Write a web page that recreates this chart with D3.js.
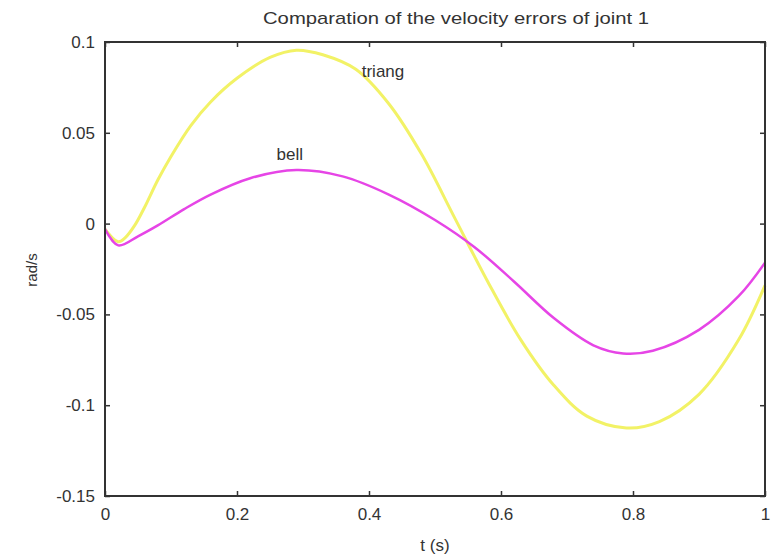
<!DOCTYPE html>
<html>
<head>
<meta charset="utf-8">
<script src="https://cdn.jsdelivr.net/npm/d3@7"></script>
<style>
  body { margin: 0; background: #fff; }
  text { font-family: "Liberation Sans", Arial, sans-serif; fill: #333; }
</style>
</head>
<body>
<div id="chart"></div>
<script>
// time samples (s) and velocity errors (rad/s)
var tTriang = [0, 0.02, 0.03, 0.045, 0.06, 0.08, 0.1, 0.13, 0.16, 0.2, 0.25, 0.29, 0.33, 0.38, 0.43, 0.48, 0.53, 0.58, 0.63, 0.68, 0.73, 0.79, 0.84, 0.9, 0.96, 1];
var triang  = [-0.003, -0.010, -0.008, -0.001, 0.009, 0.024, 0.037, 0.054, 0.067, 0.080, 0.0915, 0.0955, 0.093, 0.085, 0.066, 0.038, 0.003, -0.032, -0.064, -0.089, -0.106, -0.1125, -0.109, -0.094, -0.064, -0.034];

var tBell = [0, 0.02, 0.05, 0.08, 0.12, 0.16, 0.22, 0.29, 0.36, 0.43, 0.5, 0.56, 0.62, 0.68, 0.74, 0.785, 0.83, 0.9, 0.96, 1];
var bell  = [-0.003, -0.012, -0.007, -0.001, 0.008, 0.016, 0.025, 0.0295, 0.026, 0.016, 0.002, -0.013, -0.032, -0.052, -0.067, -0.0715, -0.070, -0.0585, -0.040, -0.0215];

var xTicks = [0, 0.2, 0.4, 0.6, 0.8, 1];
var yTicks = [0.1, 0.05, 0, -0.05, -0.1, -0.15];

const w = 774, h = 554;
const mLeft = 105, mRight = 765, mTop = 42, mBottom = 496;

const x = d3.scaleLinear().domain([0, 1]).range([mLeft, mRight]);
const y = d3.scaleLinear().domain([-0.15, 0.1]).range([mBottom, mTop]);

const svg = d3.select("#chart").append("svg")
  .attr("width", w).attr("height", h);

// curves
const line = d3.line()
  .x(d => x(d[0]))
  .y(d => y(d[1]))
  .curve(d3.curveCatmullRom.alpha(0.5));

svg.append("path")
  .datum(d3.zip(tTriang, triang))
  .attr("d", line)
  .attr("fill", "none")
  .attr("stroke", "#f2f266")
  .attr("stroke-width", 3);

svg.append("path")
  .datum(d3.zip(tBell, bell))
  .attr("d", line)
  .attr("fill", "none")
  .attr("stroke", "#e645e6")
  .attr("stroke-width", 2.5);

// box axes with inward ticks
const axisColor = "#333";
const fmt = d => String(d);
svg.append("g")
  .attr("transform", "translate(0," + mBottom + ")")
  .call(d3.axisBottom(x).tickValues(xTicks).tickSizeInner(-5).tickSizeOuter(0).tickPadding(12).tickFormat(fmt))
  .call(g => g.select(".domain").remove());
svg.append("g")
  .attr("transform", "translate(0," + mTop + ")")
  .call(d3.axisTop(x).tickValues(xTicks).tickSizeInner(-5).tickSizeOuter(0).tickFormat(""))
  .call(g => g.select(".domain").remove());
svg.append("g")
  .attr("transform", "translate(" + mLeft + ",0)")
  .call(d3.axisLeft(y).tickValues(yTicks).tickSizeInner(-5).tickSizeOuter(0).tickPadding(10).tickFormat(fmt))
  .call(g => g.select(".domain").remove());
svg.append("g")
  .attr("transform", "translate(" + mRight + ",0)")
  .call(d3.axisRight(y).tickValues(yTicks).tickSizeInner(-5).tickSizeOuter(0).tickFormat(""))
  .call(g => g.select(".domain").remove());

svg.selectAll(".tick line").attr("stroke", axisColor).attr("stroke-width", 1.5);
svg.selectAll(".tick text").style("font-size", "17px").attr("fill", "#333");

svg.append("rect")
  .attr("x", mLeft).attr("y", mTop)
  .attr("width", mRight - mLeft).attr("height", mBottom - mTop)
  .attr("fill", "none")
  .attr("stroke", axisColor)
  .attr("stroke-width", 2);

// titles
svg.append("text")
  .attr("x", 456).attr("y", 24)
  .attr("text-anchor", "middle")
  .attr("textLength", 386)
  .attr("lengthAdjust", "spacingAndGlyphs")
  .style("font-size", "17px")
  .text("Comparation of the velocity errors of joint 1");

svg.append("text")
  .attr("x", (mLeft + mRight) / 2).attr("y", 551)
  .attr("text-anchor", "middle")
  .style("font-size", "17px")
  .text("t (s)");

svg.append("text")
  .attr("transform", "translate(37," + 270 + ") rotate(-90)")
  .attr("text-anchor", "middle")
  .style("font-size", "15px")
  .text("rad/s");

// curve labels
svg.append("text")
  .attr("x", x(0.389)).attr("y", y(0.081))
  .style("font-size", "17px")
  .text("triang");
svg.append("text")
  .attr("x", x(0.26)).attr("y", y(0.035))
  .style("font-size", "17px")
  .text("bell");
</script>
</body>
</html>
